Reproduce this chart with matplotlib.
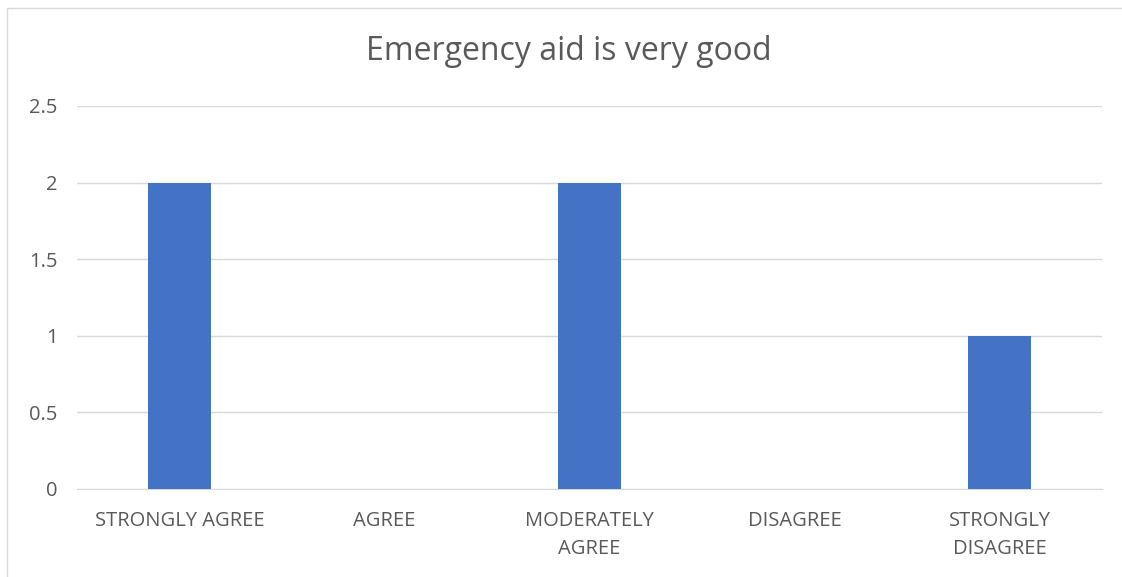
import matplotlib.pyplot as plt
from matplotlib.patches import Rectangle

categories = ["STRONGLY AGREE", "AGREE", "MODERATELY\nAGREE", "DISAGREE", "STRONGLY\nDISAGREE"]
counts = [2, 0, 2, 0, 1]
yticks = [0, 0.5, 1, 1.5, 2, 2.5]
ytick_labels = ["0", "0.5", "1", "1.5", "2", "2.5"]

plt.rcParams["font.family"] = ["Open Sans", "DejaVu Sans"]

fig = plt.figure(figsize=(11.22, 5.77), dpi=100)
W, H = 1122, 577
left, right, bottom, top = 77, 1102, 489, 106
ax = fig.add_axes([left / W, 1 - bottom / H, (right - left) / W, (bottom - top) / H])

x = list(range(len(categories)))
ax.bar(x, counts, width=0.31, color="#4472c4", zorder=3)

ax.set_xlim(-0.5, len(categories) - 0.5)
ax.set_ylim(0, 2.5)
ax.set_yticks(yticks)
ax.set_yticklabels(ytick_labels)
ax.set_xticks(x)
ax.set_xticklabels(categories, linespacing=1.5)

ax.grid(axis="y", color="#d9d9d9", linewidth=1, zorder=0)
for side in ["top", "right", "left"]:
    ax.spines[side].set_visible(False)
ax.spines["bottom"].set_color("#d9d9d9")
ax.tick_params(axis="both", length=0, colors="#595959", labelsize=14.5)
ax.tick_params(axis="y", pad=14)
ax.tick_params(axis="x", pad=16)

fig.text(569 / W, 1 - 52 / H, "Emergency aid is very good", ha="center", va="center",
         fontsize=23, color="#595959")

# chart area border (right and bottom edges fall outside the image)
fig.patches.append(Rectangle((6.5 / W, -0.1), 1.2, 1 - 7.5 / H + 0.1, transform=fig.transFigure,
                             fill=False, edgecolor="#d9d9d9", linewidth=1))

fig.savefig("out.png", dpi=100)
